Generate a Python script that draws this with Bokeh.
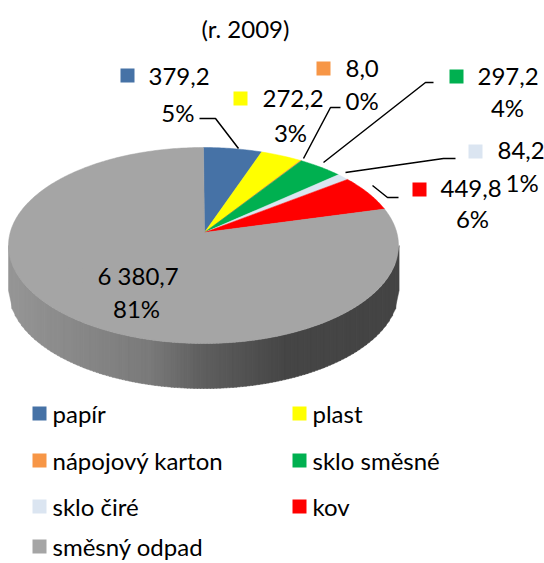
import numpy as np
from bokeh.plotting import figure
from bokeh.models import Range1d
from bokeh.embed import file_html
from bokeh.resources import INLINE
from bokeh.core.properties import value

# ---- data ----
categories = ["papír", "plast", "nápojový karton", "sklo směsné", "sklo čiré", "kov", "směsný odpad"]
amounts = [379.2, 272.2, 8.0, 297.2, 84.2, 449.8, 6380.7]
value_labels = ["379,2", "272,2", "8,0", "297,2", "84,2", "449,8", "6 380,7"]
percent_labels = ["5%", "3%", "0%", "4%", "1%", "6%", "81%"]
colors = ["#4672a6", "#ffff00", "#f79646", "#00b050", "#dbe5f1", "#ff0000", "#a5a5a5"]
title_text = "(r. 2009)"

FONT = "Lato"
FS = "24px"

W, H = 544, 563
p = figure(width=W, height=H, output_backend="svg", toolbar_location=None,
           x_range=Range1d(0, W), y_range=Range1d(H, 0),
           min_border=0)
p.axis.visible = False
p.grid.visible = False
p.outline_line_color = None
p.background_fill_color = "white"
p.border_fill_color = "white"

# ---- pie geometry (pixel-like data coords) ----
cx, cy, rx, ry = 203.0, 245.0, 195.0, 98.0
vx, vy = 204.0, 232.0
depth = 45.0

def ell(theta):
    return cx + rx * np.sin(theta), cy - ry * np.cos(theta)

# side (front wall) as vertical strips with shading
def shade(x):
    pts = [(8, 150), (150, 122), (200, 96), (285, 70), (400, 68)]
    xs_, gs_ = zip(*pts)
    g = int(np.interp(x, xs_, gs_))
    return "#%02x%02x%02x" % (g, g, g)

n_strips = 120
edges = np.linspace(cx - rx, cx + rx, n_strips + 1)
sx, sy, sc = [], [], []
for i in range(n_strips):
    x0, x1 = edges[i], edges[i + 1]
    t0 = cy + ry * np.sqrt(max(0.0, 1 - ((x0 - cx) / rx) ** 2))
    t1 = cy + ry * np.sqrt(max(0.0, 1 - ((x1 - cx) / rx) ** 2))
    sx.append([x0, x1 + 0.6, x1 + 0.6, x0])
    sy.append([t0, t1, t1 + depth, t0 + depth])
    sc.append(shade((x0 + x1) / 2))
p.patches(sx, sy, fill_color=sc, line_color=sc, line_width=0.5)

# top face slices
total = sum(amounts)
cum = np.concatenate([[0], np.cumsum(amounts)]) / total * 2 * np.pi
px_, py_ = [], []
for i in range(len(amounts)):
    th = np.linspace(cum[i], cum[i + 1], max(3, int((cum[i + 1] - cum[i]) * 80)))
    ex, ey = ell(th)
    px_.append([vx] + list(ex))
    py_.append([vy] + list(ey))
p.patches(px_, py_, fill_color=colors, line_color=colors, line_width=0.5)

# ---- data labels ----
# (square cx, cy, value text x, value y, pct x, pct y, pct align)
lab_pos = [
    (127, 75, 148, 76, 194, 112, "right"),
    (240, 98, 262, 98, 290, 132, "center"),
    (323, 68, 345, 68, 345, 100, "left"),
    (456, 76, 477, 76, 507, 107, "center"),
    (475, 151, 497, 150, 505, 182, "left"),
    (419, 189, 440, 188, 472, 218, "center"),
    (75, 275, 97, 275, 136, 308, "center"),
]
p.rect(x=[l[0] for l in lab_pos], y=[l[1] for l in lab_pos], width=14, height=14,
       fill_color=colors, line_color=None)
p.text(x=[l[2] for l in lab_pos], y=[l[3] for l in lab_pos], text=value_labels,
       text_font=value(FONT), text_font_size=FS, text_align="left",
       text_baseline="middle", text_color="black")
for l, t in zip(lab_pos, percent_labels):
    p.text(x=[l[4]], y=[l[5]], text=[t], text_font=value(FONT), text_font_size=FS,
           text_align=l[6], text_baseline="middle", text_color="black")

# leader lines
lx = [[199, 215, 238], [340, 330, 303], [433, 425, 323], [455, 443, 345], [398, 387, 372]]
ly = [[118, 118, 148], [107, 107, 158], [82, 82, 162], [158, 158, 172], [197, 197, 185]]
p.multi_line(lx, ly, line_color="black", line_width=1.5)

# title
p.text(x=[245], y=[28], text=[title_text], text_font=value(FONT), text_font_size=FS,
       text_align="center", text_baseline="middle", text_color="black")

# ---- legend ----
leg_x = [39, 299]
leg_y = [413, 460, 506, 546]
for i, (name, col) in enumerate(zip(categories, colors)):
    r, c = divmod(i, 2)
    p.rect(x=[leg_x[c]], y=[leg_y[r]], width=14, height=14, fill_color=col, line_color=None)
    p.text(x=[leg_x[c] + 13], y=[leg_y[r]], text=[name], text_font=value(FONT),
           text_font_size=FS, text_align="left", text_baseline="middle", text_color="black")

open("out.html", "w").write(file_html(p, INLINE))
